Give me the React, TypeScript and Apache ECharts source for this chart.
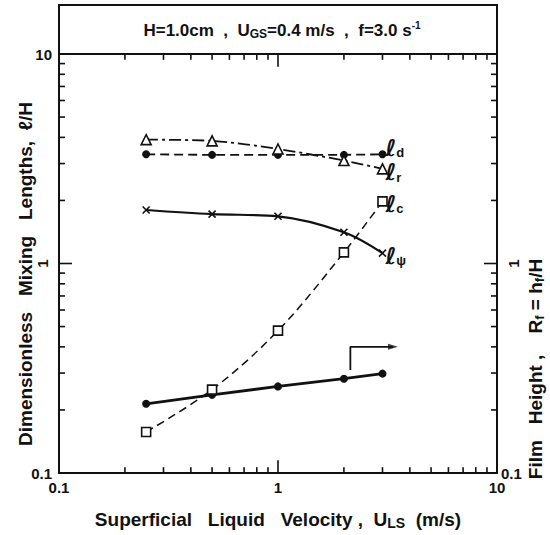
import React, { useEffect, useRef } from "react";
import * as echarts from "echarts";

const velocity = [0.25, 0.5, 1, 2, 3];
const lengthD = [3.32, 3.3, 3.3, 3.3, 3.32];
const lengthR = [3.9, 3.85, 3.52, 3.1, 2.83];
const lengthPsi = [1.8, 1.72, 1.68, 1.41, 1.12];
const lengthC = [0.157, 0.25, 0.478, 1.13, 1.98];
const filmHeight = [0.214, 0.236, 0.259, 0.282, 0.298];
const arrowPath = [
  [2.14, 0.31],
  [2.14, 0.4],
  [3.35, 0.4],
];
const majorTicks = [1];
const minorTicks = [0.2, 0.3, 0.4, 0.5, 0.6, 0.7, 0.8, 0.9, 2, 3, 4, 5, 6, 7, 8, 9];
const AXIS_MIN = 0.1;
const AXIS_MAX = 10;

const FONT = "Liberation Sans, Arial, sans-serif";
const BLACK = "#111";
const W = 550;
const H = 535;

const zip = (ys: number[]) => velocity.map((x, i) => [x, ys[i]]);
const isOne = (v: number) => Math.abs(v - 1) < 1e-6;
const fmt = (v: number) => (v < 0.5 ? "0.1" : isOne(v) ? "1" : "10");

// Tick marks as tiny line series in data space (tick length as a fraction of a decade).
const X_DECADE_PX = 219;
const Y_DECADE_PX = 215;
function tickSeries(): any[] {
  const out: any[] = [];
  [...majorTicks, ...minorTicks].forEach((v) => {
    const len = majorTicks.indexOf(v) >= 0 ? 13 : 6;
    const fy = Math.pow(10, len / Y_DECADE_PX);
    const fx = Math.pow(10, len / X_DECADE_PX);
    const segs = [
      [[v, AXIS_MIN], [v, AXIS_MIN * fy]],
      [[v, AXIS_MAX], [v, AXIS_MAX / fy]],
      [[AXIS_MIN, v], [AXIS_MIN * fx, v]],
      [[AXIS_MAX, v], [AXIS_MAX / fx, v]],
    ];
    segs.forEach((d) => {
      out.push({
        type: "line",
        data: d,
        symbol: "none",
        showSymbol: false,
        silent: true,
        clip: false,
        z: 1,
        lineStyle: { color: BLACK, width: 1.6, type: "solid" },
        emphasis: { disabled: true },
      });
    });
  });
  return out;
}

function baseAxis(position: string, showLine: boolean) {
  return {
    type: "log",
    min: AXIS_MIN,
    max: AXIS_MAX,
    position,
    splitLine: { show: false },
    axisLine: { show: showLine, lineStyle: { color: BLACK, width: 2 } },
    axisTick: { show: false },
    axisLabel: { show: false },
  };
}

const labelStyle = { color: BLACK, fontSize: 15, fontFamily: FONT, fontWeight: "bold" };

export default function App() {
  const ref = useRef<HTMLDivElement>(null);
  useEffect(() => {
    document.body.style.margin = "0";
    if (!ref.current) return;
    const chart = echarts.init(ref.current, null, { renderer: "svg" });
    const endLab = (sub: string, dy: number) => ({
      show: true,
      formatter: `{l|ℓ}{s|${sub}}`,
      distance: 3,
      offset: [0, dy],
      rich: {
        l: { fontSize: 23, fontFamily: "DejaVu Sans, sans-serif", fontWeight: "bold", color: BLACK, verticalAlign: "bottom", lineHeight: 24 },
        s: { fontSize: 13, fontFamily: FONT, fontWeight: "bold", color: BLACK, verticalAlign: "bottom", lineHeight: 14 },
      },
    });
    chart.setOption({
      animation: false,
      grid: { left: 59, right: 53, top: 54, bottom: 51, containLabel: false },
      xAxis: [
        {
          ...baseAxis("bottom", true),
          axisLabel: { show: true, formatter: fmt, margin: 7, ...labelStyle },
          name: "Superficial   Liquid   Velocity ,  U{sub|LS}  (m/s)",
          nameLocation: "middle",
          nameGap: 35,
          nameTextStyle: {
            fontSize: 19,
            fontFamily: FONT,
            fontWeight: "bold",
            color: BLACK,
            rich: {
              sub: { fontSize: 14, fontFamily: FONT, fontWeight: "bold", color: BLACK, padding: [8, 0, 0, 0] },
            },
          },
        },
        baseAxis("top", true),
      ],
      yAxis: [
        {
          ...baseAxis("left", true),
          axisLabel: { show: true, formatter: (v: number) => (isOne(v) ? "" : fmt(v)), margin: 7, ...labelStyle },
        },
        {
          ...baseAxis("left", false),
          axisLabel: { show: true, rotate: 90, formatter: (v: number) => (isOne(v) ? "1" : ""), margin: 9, ...labelStyle },
        },
        {
          ...baseAxis("right", true),
          axisLabel: { show: true, formatter: (v: number) => (v < 0.5 ? "0.1" : ""), margin: 4, ...labelStyle },
        },
        {
          ...baseAxis("right", false),
          axisLabel: { show: true, rotate: 90, formatter: (v: number) => (isOne(v) ? "1" : ""), margin: 9, ...labelStyle },
        },
      ],
      graphic: [
        {
          type: "rect",
          shape: { x: 59, y: 5, width: 438, height: 49 },
          style: { fill: "none", stroke: BLACK, lineWidth: 2 },
        },
        {
          type: "text",
          x: 282,
          y: 30,
          style: {
            text: "H=1.0cm  ,  U{sub|GS}=0.4 m/s  ,  f=3.0 s{sup|-1}",
            align: "center",
            verticalAlign: "middle",
            fontSize: 17,
            fontWeight: "bold",
            fontFamily: FONT,
            fill: BLACK,
            rich: {
              sub: { fontSize: 12, fontWeight: "bold", fontFamily: FONT, fill: BLACK, padding: [7, 0, 0, 0] },
              sup: { fontSize: 10, fontWeight: "bold", fontFamily: FONT, fill: BLACK, padding: [0, 0, 9, 0] },
            },
          },
        },
        {
          type: "text",
          x: 25,
          y: 274,
          rotation: Math.PI / 2,
          style: {
            text: "Dimensionless   Mixing   Lengths,  ℓ/H",
            align: "center",
            verticalAlign: "middle",
            fontSize: 19,
            fontWeight: "bold",
            fontFamily: FONT,
            fill: BLACK,
          },
        },
        {
          type: "text",
          x: 535,
          y: 369,
          rotation: Math.PI / 2,
          style: {
            text: "Film   Height ,    R{sub|f} = h{sub|f}/H",
            align: "center",
            verticalAlign: "middle",
            fontSize: 19,
            fontWeight: "bold",
            fontFamily: FONT,
            fill: BLACK,
            rich: {
              sub: { fontSize: 13, fontWeight: "bold", fontFamily: FONT, fill: BLACK, padding: [8, 0, 0, 0] },
            },
          },
        },
      ],
      series: [
        {
          name: "ld",
          type: "line",
          data: zip(lengthD),
          symbol: "circle",
          symbolSize: 8,
          itemStyle: { color: BLACK },
          lineStyle: { color: BLACK, width: 1.8, type: [9, 5] },
          endLabel: endLab("d", -7),
        },
        {
          name: "lr",
          type: "line",
          data: zip(lengthR),
          smooth: 0.3,
          symbol: "triangle",
          symbolSize: 10,
          itemStyle: { color: "#fff", borderColor: BLACK, borderWidth: 1.6 },
          lineStyle: { color: BLACK, width: 1.8, type: [12, 4, 3, 4] },
          endLabel: endLab("r", 3),
        },
        {
          name: "lpsi",
          type: "line",
          data: zip(lengthPsi),
          smooth: 0.35,
          symbol: "path://M0,0L10,10M10,0L0,10",
          symbolSize: 7,
          itemStyle: { color: "none", borderColor: BLACK, borderWidth: 1.6 },
          lineStyle: { color: BLACK, width: 2.2 },
          endLabel: endLab("ψ", 2),
        },
        {
          name: "lc",
          type: "line",
          data: zip(lengthC),
          smooth: 0.35,
          symbol: "rect",
          symbolSize: 9,
          itemStyle: { color: "#fff", borderColor: BLACK, borderWidth: 1.6 },
          lineStyle: { color: BLACK, width: 1.5, type: [8, 5] },
          endLabel: endLab("c", 2),
          z: 3,
        },
        {
          name: "Rf",
          type: "line",
          yAxisIndex: 2,
          data: zip(filmHeight),
          symbol: "circle",
          symbolSize: 8,
          itemStyle: { color: BLACK },
          lineStyle: { color: BLACK, width: 2.8 },
          z: 2,
        },
        {
          name: "arrow",
          type: "line",
          yAxisIndex: 2,
          data: arrowPath,
          showSymbol: false,
          symbol: "none",
          lineStyle: { color: BLACK, width: 1.8 },
          silent: true,
        },
        {
          name: "arrowHead",
          type: "scatter",
          yAxisIndex: 2,
          data: [arrowPath[arrowPath.length - 1]],
          symbol: "triangle",
          symbolSize: [6, 10],
          symbolRotate: -90,
          itemStyle: { color: BLACK },
          silent: true,
        },
        ...tickSeries(),
      ],
    });
    return () => chart.dispose();
  }, []);
  return <div ref={ref} style={{ width: W, height: H }} />;
}
